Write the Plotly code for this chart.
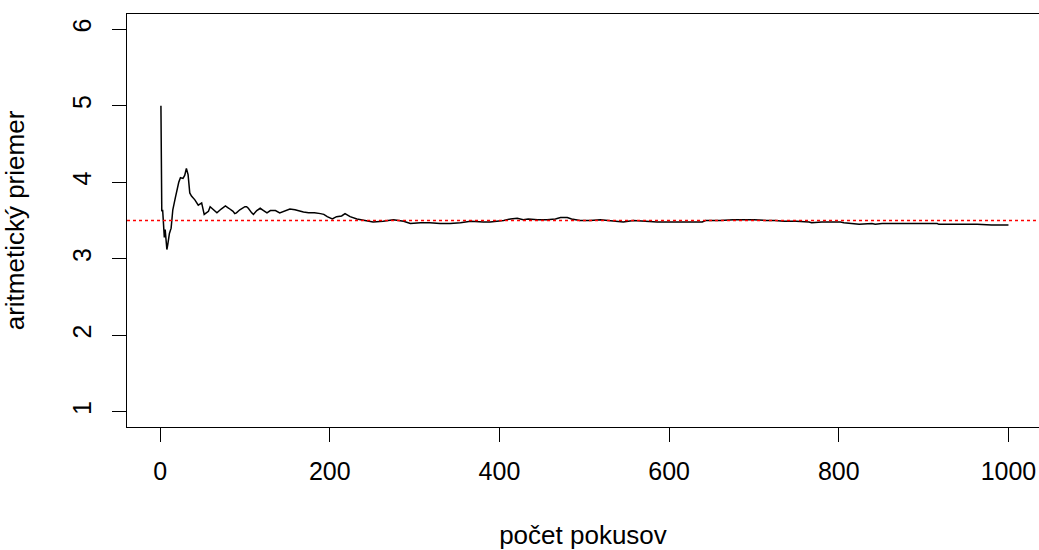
import plotly.graph_objects as go

# Running mean of dice throws
trials = [1, 2, 3, 5, 6, 8, 9, 11, 13, 14, 15, 18, 20, 22, 24, 27, 29, 31, 33, 35, 37,
          41, 45, 47, 49, 52, 55, 57, 59, 61, 63, 67, 72, 77, 81, 86, 88, 90, 94, 100,
          102, 104, 108, 110, 114, 118, 122, 126, 130, 136, 141, 147, 153, 159, 164,
          169, 175, 182, 189, 193, 197, 203, 208, 214, 218, 224, 232, 240, 251, 263,
          275, 287, 295, 307, 318, 330, 342, 354, 366, 381, 389, 397, 405, 413, 421,
          428, 434, 445, 456, 466, 472, 480, 485, 495, 507, 519, 531, 546, 558, 568,
          578, 586, 600, 613, 626, 639, 643, 660, 676, 690, 700, 715, 725, 735, 750,
          765, 768, 780, 802, 806, 815, 824, 839, 843, 851, 870, 890, 916, 918, 940,
          963, 980, 991, 1000]
mean_value = [5.00, 3.62, 3.64, 3.28, 3.38, 3.12, 3.18, 3.33, 3.40, 3.58, 3.64, 3.80, 3.92, 4.00, 4.06, 4.05, 4.09, 4.18, 4.10, 3.86, 3.82,
              3.77, 3.70, 3.72, 3.73, 3.58, 3.60, 3.62, 3.68, 3.66, 3.64, 3.60, 3.65, 3.69, 3.66, 3.62, 3.59, 3.60, 3.64, 3.68,
              3.68, 3.66, 3.60, 3.58, 3.63, 3.66, 3.63, 3.60, 3.63, 3.63, 3.60, 3.63, 3.65, 3.64, 3.62,
              3.61, 3.60, 3.60, 3.59, 3.58, 3.55, 3.52, 3.55, 3.56, 3.59, 3.55, 3.52, 3.50, 3.48, 3.49,
              3.51, 3.49, 3.46, 3.47, 3.47, 3.46, 3.46, 3.47, 3.49, 3.48, 3.48, 3.49, 3.50, 3.52, 3.53,
              3.51, 3.52, 3.51, 3.51, 3.52, 3.54, 3.54, 3.52, 3.50, 3.50, 3.51, 3.50, 3.48, 3.50, 3.49,
              3.48, 3.48, 3.48, 3.48, 3.48, 3.48, 3.50, 3.50, 3.51, 3.51, 3.51, 3.50, 3.50, 3.49, 3.49,
              3.48, 3.47, 3.48, 3.48, 3.47, 3.46, 3.45, 3.46, 3.45, 3.46, 3.46, 3.46, 3.46, 3.45, 3.45,
              3.45, 3.44, 3.44, 3.44]
expected_value = 3.5

x_ticks = [0, 200, 400, 600, 800, 1000]
y_ticks = [1, 2, 3, 4, 5, 6]
x_title = "počet pokusov"
y_title = "aritmetický priemer"

FONT = "Liberation Sans, Arial, sans-serif"

fig = go.Figure()
fig.add_trace(go.Scatter(x=trials, y=mean_value, mode="lines",
                         line=dict(color="black", width=1.5), showlegend=False,
                         hoverinfo="skip"))
fig.add_shape(type="line", xref="paper", yref="y", x0=0, x1=1,
              y0=expected_value, y1=expected_value,
              line=dict(color="red", width=1.5, dash="3px,3px"))

fig.update_layout(
    width=1039, height=550,
    margin=dict(l=127, r=0, t=14, b=123),
    paper_bgcolor="white", plot_bgcolor="white",
    font=dict(family=FONT, size=25, color="black"),
    xaxis=dict(range=[-39, 1036], tickvals=x_ticks, ticktext=[str(v) for v in x_ticks],
               showgrid=False, zeroline=False, showline=True, linecolor="black",
               linewidth=1.3, mirror=True, ticks="outside", ticklen=14, tickwidth=1.2,
               tickcolor="black", ticklabelstandoff=8, tickfont=dict(size=25),
               title=dict(text=x_title, standoff=44, font=dict(size=26))),
    yaxis=dict(range=[0.8, 6.2], tickvals=y_ticks, ticktext=[str(v) for v in y_ticks],
               showgrid=False, zeroline=False, showline=True, linecolor="black",
               linewidth=1.3, ticks="outside", ticklen=14, tickwidth=1.2,
               tickcolor="black", tickangle=-90, ticklabelstandoff=11,
               tickfont=dict(size=25),
               title=dict(text=y_title, standoff=36, font=dict(size=26))),
)

fig.write_html("out.html")
